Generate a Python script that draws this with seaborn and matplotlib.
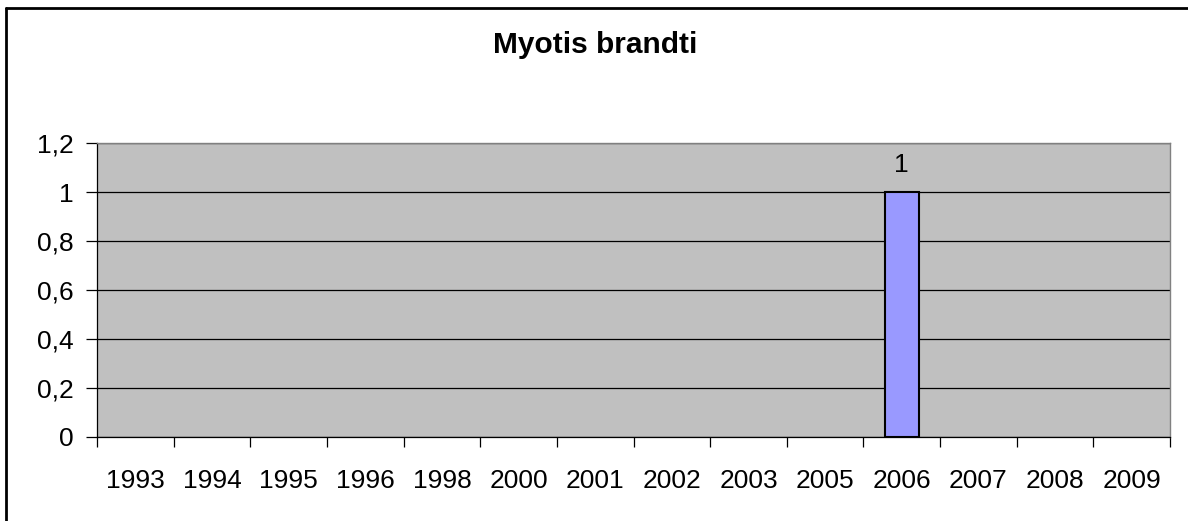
import matplotlib
matplotlib.use("Agg")
import matplotlib.pyplot as plt
from matplotlib.ticker import FuncFormatter, FixedLocator
from matplotlib.lines import Line2D
import seaborn as sns
import pandas as pd
import numpy as np

years = ["1993", "1994", "1995", "1996", "1998", "2000", "2001",
         "2002", "2003", "2005", "2006", "2007", "2008", "2009"]
counts = [0, 0, 0, 0, 0, 0, 0, 0, 0, 0, 1, 0, 0, 0]
title = "Myotis brandti"

sns.set_theme(style="white")
plt.rcParams['font.family'] = ['Liberation Sans', 'DejaVu Sans']
plt.rcParams['text.color'] = 'black'
plt.rcParams['xtick.color'] = 'black'
plt.rcParams['ytick.color'] = 'black'
plt.rcParams['xtick.labelcolor'] = 'black'
plt.rcParams['ytick.labelcolor'] = 'black'

df = pd.DataFrame({"year": years, "count": counts})

fig = plt.figure(figsize=(11.88, 5.21), dpi=100)
ax = fig.add_axes([97/1188, 1-437/521, (1170-97)/1188, (437-143)/521])
ax.set_facecolor("#C0C0C0")

ax.set_ylim(0, 1.2)
ax.set_yticks([0, 0.2, 0.4, 0.6, 0.8, 1.0, 1.2])
ax.yaxis.grid(True, color="black", linewidth=0.9)
ax.set_axisbelow(True)

sns.barplot(data=df, x="year", y="count", ax=ax, color="#9999FF",
            saturation=1, width=0.44, edgecolor="black", linewidth=1.5,
            zorder=3)

for c in ax.containers:
    for p, v in zip(c.patches, c.datavalues):
        if v == 0:
            p.set_visible(False)
    labels = [("%g" % v).replace(".", ",") if v > 0 else "" for v in c.datavalues]
    ax.bar_label(c, labels=labels, padding=11, fontsize=19, color="black")

ax.set_xlim(-0.5, len(years) - 0.5)
ax.yaxis.set_major_formatter(FuncFormatter(lambda v, p: ("%g" % round(v, 2)).replace(".", ",")))
ax.tick_params(axis="y", which="major", left=True, length=8, width=0.9,
               direction="out", color="black", labelsize=19, pad=9,
               labelcolor="black")
ax.tick_params(axis="x", which="major", bottom=True, length=0, labelsize=19,
               pad=23, labelcolor="black")
ax.xaxis.set_minor_locator(FixedLocator(np.arange(-0.5, len(years), 1.0)))
ax.tick_params(axis="x", which="minor", bottom=True, length=7, width=0.9,
               direction="out", color="black")

ax.set_xlabel("")
ax.set_ylabel("")

for side in ["left", "bottom"]:
    ax.spines[side].set_visible(True)
    ax.spines[side].set_color("black")
    ax.spines[side].set_linewidth(0.9)
for side in ["top", "right"]:
    ax.spines[side].set_visible(True)
    ax.spines[side].set_color("#808080")
    ax.spines[side].set_linewidth(1.0)

fig.text(595/1188, 1-45/521, title, ha="center", va="center",
         fontsize=21.5, fontweight="bold", color="black")

# outer chart border (left and top visible)
fig.add_artist(Line2D([6/1188, 6/1188], [0, 1-8/521], transform=fig.transFigure,
                      color="black", linewidth=2))
fig.add_artist(Line2D([6/1188, 1], [1-8/521, 1-8/521], transform=fig.transFigure,
                      color="black", linewidth=2))

fig.savefig("out.png", dpi=100)
